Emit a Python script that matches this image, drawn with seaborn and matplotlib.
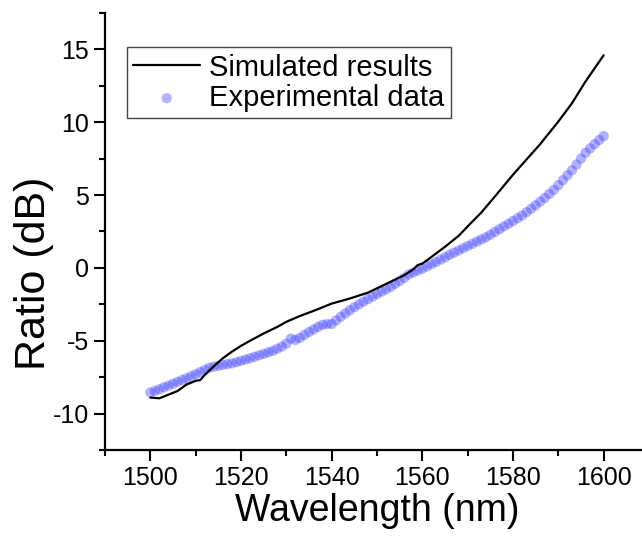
import numpy as np
import pandas as pd
import matplotlib
matplotlib.use('Agg')
import matplotlib.pyplot as plt
from matplotlib.ticker import MultipleLocator
import seaborn as sns

# simulated curve (nm, dB)
sim_wl = [1500, 1502, 1504, 1506, 1508, 1510, 1511, 1512, 1514, 1516, 1518, 1520,
          1522, 1525, 1528, 1530, 1533, 1536, 1540, 1544, 1548, 1550, 1553, 1556,
          1558, 1559, 1560, 1562, 1565, 1568, 1570, 1573, 1576, 1580, 1583, 1586,
          1590, 1593, 1596, 1600]
sim_ratio = [-8.9, -8.95, -8.7, -8.45, -8.0, -7.75, -7.7, -7.35, -6.75, -6.2, -5.75, -5.35,
             -5.0, -4.5, -4.05, -3.7, -3.3, -2.95, -2.45, -2.1, -1.7, -1.4, -0.95, -0.5,
             -0.1, 0.2, 0.3, 0.75, 1.45, 2.2, 2.85, 3.8, 4.9, 6.4, 7.45, 8.5,
             10.05, 11.3, 12.8, 14.6]

# measured points, one per nm from 1500 to 1600
exp_wl = list(range(1500, 1601))
exp_ratio = [-8.55, -8.45, -8.33, -8.2, -8.08, -7.95, -7.82, -7.7, -7.57, -7.44,
             -7.3, -7.15, -7.0, -6.85, -6.78, -6.72, -6.66, -6.6, -6.55, -6.47,
             -6.38, -6.29, -6.2, -6.1, -6.0, -5.9, -5.8, -5.7, -5.55, -5.4,
             -5.2, -4.85, -4.95, -4.8, -4.6, -4.4, -4.22, -4.05, -3.9, -3.85,
             -3.85, -3.6, -3.35, -3.12, -2.9, -2.7, -2.5, -2.32, -2.15, -1.97,
             -1.8, -1.63, -1.47, -1.3, -1.1, -0.9, -0.68, -0.45, -0.32, -0.18,
             -0.05, 0.1, 0.25, 0.4, 0.57, 0.73, 0.9, 1.05, 1.2, 1.35,
             1.5, 1.65, 1.8, 1.95, 2.1, 2.28, 2.47, 2.66, 2.85, 3.03,
             3.22, 3.41, 3.6, 3.83, 4.06, 4.3, 4.55, 4.8, 5.08, 5.35,
             5.68, 6.02, 6.36, 6.7, 7.1, 7.5, 7.9, 8.2, 8.5, 8.78, 9.05]

sns.set_style('ticks')
plt.rcParams['font.family'] = ['Liberation Sans', 'DejaVu Sans']
plt.rcParams['axes.unicode_minus'] = False
plt.rcParams['text.color'] = 'black'
plt.rcParams['axes.labelcolor'] = 'black'
plt.rcParams['xtick.color'] = 'black'
plt.rcParams['ytick.color'] = 'black'

fig = plt.figure(figsize=(6.42, 5.43), dpi=100)
ax = fig.add_axes([105 / 642, 93 / 543, 544 / 642, 437 / 543])

sns.lineplot(x=sim_wl, y=sim_ratio, color='black', linewidth=1.6,
             label='Simulated results', ax=ax)
sns.scatterplot(x=exp_wl, y=exp_ratio, color='#4040ff', alpha=0.4, s=55,
                edgecolor='none', label='Experimental data', ax=ax)

ax.set_xlim(1490, 1610)
ax.set_ylim(-12.5, 17.5)
ax.xaxis.set_major_locator(MultipleLocator(20))
ax.xaxis.set_minor_locator(MultipleLocator(10))
ax.yaxis.set_major_locator(MultipleLocator(5))
ax.yaxis.set_minor_locator(MultipleLocator(2.5))
ax.set_xticks([1500, 1520, 1540, 1560, 1580, 1600])

ax.tick_params(which='major', length=8, width=1.5, labelsize=18, direction='out')
ax.tick_params(which='minor', length=4.5, width=1.5, direction='out')
sns.despine(ax=ax)
for sp in ['left', 'bottom']:
    ax.spines[sp].set_linewidth(1.6)
    ax.spines[sp].set_color('black')

ax.set_xlabel('Wavelength (nm)', fontsize=27, labelpad=2)
ax.set_ylabel('Ratio (dB)', fontsize=31)
ax.yaxis.set_label_coords(-0.093, 0.405)

leg = ax.legend(loc='upper left', bbox_to_anchor=(0.04, 0.922), borderaxespad=0,
                fontsize=21, frameon=True, fancybox=False, framealpha=1,
                edgecolor='#444444', handlelength=2.3, handletextpad=0.3,
                borderpad=0.22, labelspacing=0.08, markerscale=1.0)
leg.get_frame().set_linewidth(1.0)

fig.savefig('out.png', dpi=100)
